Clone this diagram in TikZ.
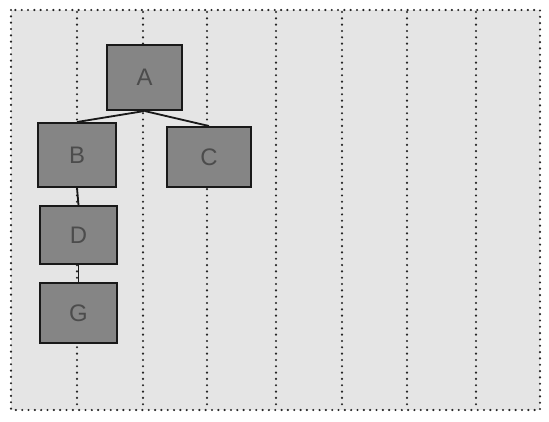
\documentclass[tikz,border=0pt]{standalone}
\usepackage{fontspec}
\setmainfont{Liberation Sans}
\begin{document}
\begin{tikzpicture}[x=0.5mm,y=-0.5mm,
  blok/.style={draw=black!90, line width=2.8pt, fill=black!48, inner sep=0pt,
    text=black!70, font=\fontsize{34}{38}\selectfont},
  stip/.style={black!85, line width=3.4pt, line cap=round, dash pattern=on 0pt off 9pt},
  tak/.style={black!90, line width=2.6pt}]
  \useasboundingbox (0,0) rectangle (549,421);
  % achtergrond
  \fill[gray!20] (11,10) rectangle (540,410);
  % kolommen
  \foreach \x in {77,143,207,276,342,407,476}
    \draw[stip] (\x,12) -- (\x,408);
  % kader
  \draw[stip] (11,10) rectangle (540,410);
  % knopen
  \node[blok, minimum width=37.5mm, minimum height=32.5mm] (A) at (144.5,77.5) {A};
  \node[blok, minimum width=39mm, minimum height=32mm] (B) at (77,155) {B};
  \node[blok, minimum width=42mm, minimum height=30mm] (C) at (209,157) {C};
  \node[blok, minimum width=38.5mm, minimum height=29mm] (D) at (78.5,235) {D};
  \node[blok, minimum width=38.5mm, minimum height=30mm] (G) at (78.5,313) {G};
  % verbindingen
  \draw[tak] (A.south) -- (B.north);
  \draw[tak] (A.south) -- (C.north);
  \draw[tak] (B.south) -- (D.north);
  \draw[tak] (D.south) -- (G.north);
\end{tikzpicture}
\end{document}
